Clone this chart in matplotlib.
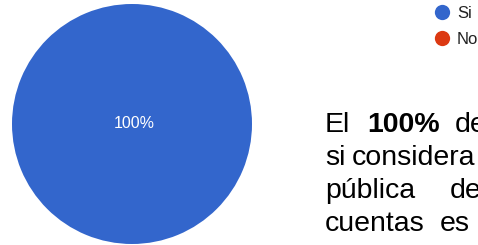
import matplotlib.pyplot as plt
from matplotlib.lines import Line2D

plt.rcParams['font.family'] = ['Liberation Sans', 'DejaVu Sans']

categories = ["Si", "No"]
values = [100, 0]
colors = ['#3366cc', '#dc3912']
pct_label = "100%"

W, H = 478, 245


def main():
    fig = plt.figure(figsize=(W / 100, H / 100), dpi=100)

    # pie, centre ~ (132, 124) px, radius ~ 120 px
    cx, cy, r = 132, 124, 120
    ax = fig.add_axes([(cx - r) / W, 1 - (cy + r) / H, 2 * r / W, 2 * r / H])
    ax.pie(values, colors=colors, startangle=90, counterclock=False,
           wedgeprops=dict(linewidth=0))
    ax.set_xlim(-1, 1)
    ax.set_ylim(-1, 1)
    ax.set_aspect('auto')
    ax.text(0.02, 0, pct_label, color='white', fontsize=11.5,
            ha='center', va='center')
    ax.axis('off')

    # legend, top right (cut by the figure edge)
    handles = [Line2D([], [], linestyle='none', marker='o', markersize=11,
                      markerfacecolor=c, markeredgewidth=0) for c in colors]
    fig.legend(handles, categories, loc='upper left',
               bbox_to_anchor=(433.5 / W, 1 - 6 / H), frameon=False,
               handlelength=1.0, handletextpad=0.4,
               labelspacing=0.68, borderpad=0, borderaxespad=0,
               prop={'size': 12}, labelcolor='#222222')

    # justified paragraph, cut at the right edge
    lines = [
        [("El", 325, 'normal'), ("100%", 367, 'bold'), ("de", 455, 'normal')],
        [("si", 325, 'normal'), ("considera", 352, 'normal')],
        [("pública", 325, 'normal'), ("de", 450, 'normal')],
        [("cuentas", 325, 'normal'), ("es", 440, 'normal')],
    ]
    baselines = [132, 165, 198, 231]
    for words, y in zip(lines, baselines):
        for word, x, weight in words:
            fig.text(x / W, 1 - y / H, word, fontsize=20.5, fontweight=weight,
                     color='black', ha='left', va='baseline')

    fig.savefig('out.png', dpi=100)
    plt.close(fig)


if __name__ == "__main__":
    main()
